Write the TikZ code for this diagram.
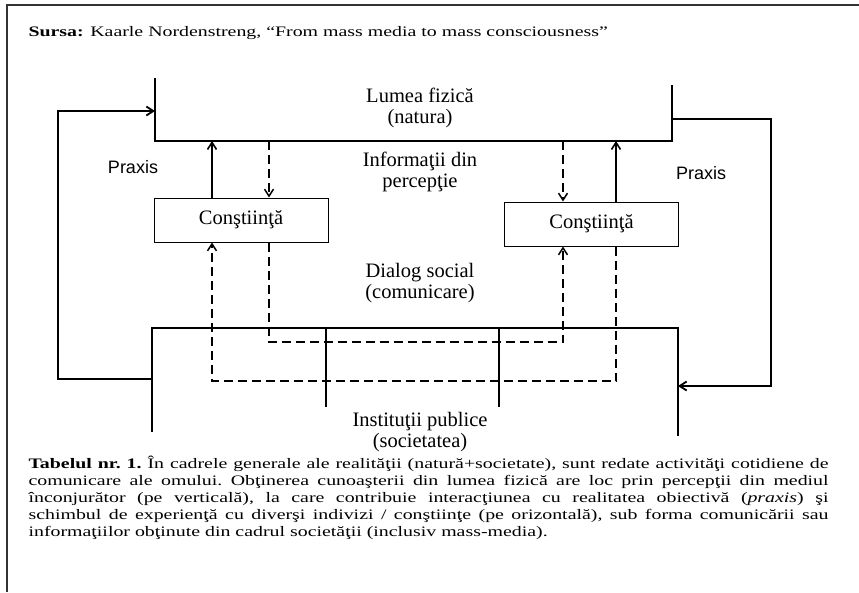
\documentclass[tikz,border=0pt]{standalone}
\usepackage{fontspec}
\setmainfont{Liberation Serif}
\newfontfamily\praxisfont{Liberation Sans}
\newfontfamily\docfont[FakeStretch=1.37]{Liberation Serif}
\usetikzlibrary{arrows.meta,calc}
\newcommand{\diagfont}{\fontsize{20.5}{21}\selectfont}

\begin{document}
\begin{tikzpicture}[x=1pt,y=-1pt,>={Straight Barb[length=7pt,width=9pt]},line width=1.1pt,
    cons/.style={draw,line width=1pt,minimum width=174pt,minimum height=44pt,inner sep=0pt,font=\diagfont},
    txt/.style={align=center,inner sep=0pt,font=\diagfont},
    praxis/.style={inner sep=0pt,font=\praxisfont\fontsize{18}{20}\selectfont},
    act/.style={line width=1.6pt},
    info/.style={dash pattern=on 9pt off 5pt,line width=1.5pt},
    loopline/.style={line width=1.8pt}]
    \useasboundingbox (0,0) rectangle (859,592);
    \draw[line width=1.5pt,black!80] (7,592) -- (7,5) -- (859,5);

    \node[anchor=base west,inner sep=0pt,font=\docfont\fontsize{14.5}{17}\selectfont] (source) at (28,36)
        {\textbf{Sursa:} Kaarle Nordenstreng, “From mass media to mass consciousness”};

    \coordinate (natTL) at (155,78);
    \coordinate (natBL) at (155,141);
    \coordinate (natBR) at (672,141);
    \coordinate (natTR) at (672,85);
    \coordinate (socTL) at (152,328);
    \coordinate (socBL) at (152,432);
    \coordinate (socTR) at (678,328);
    \coordinate (socBR) at (678,436);
    \coordinate (socA)  at (326,407);
    \coordinate (socB)  at (499,407);

    \node[cons]                   (consL)  at (241,220)     {Conştiinţă};
    \node[cons]                   (consR)  at (591.5,224)   {Conştiinţă};
    \node[txt]                    (lumea)  at (420,108)     {Lumea fizică\\(natura)};
    \node[txt]                    (info)   at (420,172)     {Informaţii din\\percepţie};
    \node[txt]                    (dialog) at (420,283)     {Dialog social\\(comunicare)};
    \node[txt]                    (instit) at (420,432)     {Instituţii publice\\(societatea)};
    \node[praxis]                 (praxL)  at (133,167)     {Praxis};
    \node[praxis]                 (praxR)  at (701,173)     {Praxis};

    \coordinate (pL) at (212,0);
    \coordinate (iL) at (269,0);
    \coordinate (iR) at (563,0);
    \coordinate (pR) at (616,0);
    \coordinate (upper) at (0,342);
    \coordinate (lower) at (0,381);
    \coordinate (natW)  at (155,111);
    \coordinate (cornL) at (58,111);
    \coordinate (socW)  at (152,379);
    \coordinate (natE)  at (672,119);
    \coordinate (cornR) at (771,386);
    \coordinate (socE)  at (678,386);

    \draw (natTL) -- (natBL) -- (natBR) -- (natTR);
    \draw (socBL) -- (socTL) -- (socTR) -- (socBR);
    \draw (socA |- socTL) -- (socA);
    \draw (socB |- socTL) -- (socB);

    \draw[->,act]  (consL.north -| pL) -- (natBL -| pL);
    \draw[->,info] (natBL -| iL) -- (consL.north -| iL);
    \draw[->,info] (natBL -| iR) -- (consR.north -| iR);
    \draw[->,act]  (consR.north -| pR) -- (natBL -| pR);

    \draw[->,info] (consL.south -| iL) -- (iL |- upper) -| (consR.south -| iR);
    \draw[->,info] (consR.south -| pR) -- (pR |- lower) -| (consL.south -| pL);

    \draw[->,loopline] (socW) -| (cornL) -- (natW);
    \draw[->,loopline] (natE) -| (cornR) -- (socE);

    \node[anchor=north west,text width=800pt,align=justify,inner sep=0pt,
        font=\docfont\fontsize{14.5}{17}\selectfont\frenchspacing] (caption) at (28,455)
        {\textbf{Tabelul nr. 1.} În cadrele generale ale realităţii (natură+societate), sunt redate activităţi cotidiene de\linebreak
        comunicare ale omului. Obţinerea cunoaşterii din lumea fizică are loc prin percepţii din mediul\linebreak
        înconjurător (pe verticală), la care contribuie interacţiunea cu realitatea obiectivă (\textit{praxis}) şi\linebreak
        schimbul de experienţă cu diverşi indivizi / conştiinţe (pe orizontală), sub forma comunicării sau\linebreak
        informaţiilor obţinute din cadrul societăţii (inclusiv mass-media).};
\end{tikzpicture}
\end{document}
